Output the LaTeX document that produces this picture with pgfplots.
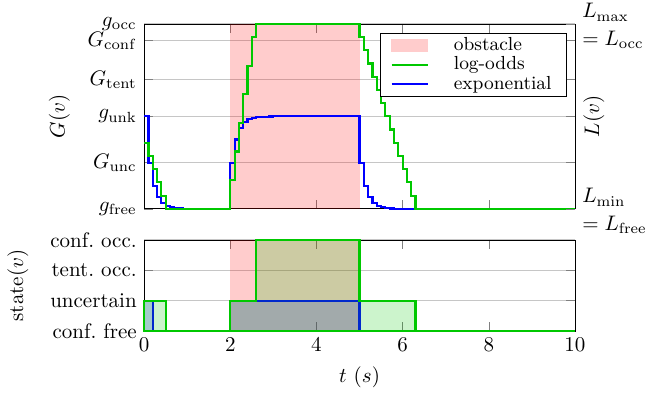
\documentclass[border=0pt]{standalone}
\usepackage{pgfplots}
\pgfplotsset{compat=1.18}
\usetikzlibrary{calc}
\definecolor{myg}{RGB}{0,200,0}
\definecolor{myb}{RGB}{0,0,255}
\begin{document}
\begin{tikzpicture}
\pgfplotsset{
  every axis/.append style={scale only axis, width=205pt, xmin=0, xmax=10, clip=false},
  grid style={gray!45, line width=0.5pt},
}
% ---------- top axis ----------
\begin{axis}[name=top, height=88pt, ymin=0, ymax=1,
  xtick={0,2,...,10}, xticklabels={},
  ytick={0,0.25,0.5,0.70,0.91,1},
  yticklabels={$g_{\mathrm{free}}$,$G_{\mathrm{unc}}$,$g_{\mathrm{unk}}$,$G_{\mathrm{tent}}$,$G_{\mathrm{conf}}$,$g_{\mathrm{occ}}$},
  ymajorgrids,
  ylabel={$G(v)$},
  ylabel style={at={(axis description cs:-0.197,0.5)}, anchor=center},
  legend entries={obstacle,log-odds,exponential},
  legend style={at={(axis description cs:0.981,0.953)}, anchor=north east, font=\small,
    inner xsep=5pt, inner ysep=0pt, row sep=-2.5pt,
    /tikz/every odd column/.append style={column sep=10pt}},
  legend cell align=left,
]
\addplot[draw=none, fill=red, fill opacity=0.2, forget plot] coordinates {(2,1) (5,1)} \closedcycle;
\addplot[myb, line width=1pt, const plot, forget plot] coordinates {
(0,0.5)(0.1,0.25)(0.2,0.125)(0.3,0.0625)(0.4,0.03125)(0.5,0.0156)(0.6,0.0078)(0.7,0.0039)(0.8,0.002)(0.9,0.001)(1.0,0)
(2.0,0.25)(2.1,0.375)(2.2,0.4375)(2.3,0.46875)(2.4,0.484)(2.5,0.492)(2.6,0.496)(2.7,0.498)(2.8,0.499)(2.9,0.4995)(3.0,0.5)
(5.0,0.25)(5.1,0.125)(5.2,0.0625)(5.3,0.03125)(5.4,0.0156)(5.5,0.0078)(5.6,0.0039)(5.7,0.002)(5.8,0.001)(5.9,0)(10,0)};
\addplot[myg, line width=1pt, const plot, forget plot] coordinates {
(0,0.357)(0.1,0.286)(0.2,0.214)(0.3,0.143)(0.4,0.071)(0.5,0)
(2.0,0.155)(2.1,0.31)(2.2,0.465)(2.3,0.62)(2.4,0.775)(2.5,0.93)(2.6,1)
(5.0,0.929)(5.1,0.857)(5.2,0.786)(5.3,0.714)(5.4,0.643)(5.5,0.571)(5.6,0.5)(5.7,0.429)(5.8,0.357)(5.9,0.286)(6.0,0.214)(6.1,0.143)(6.2,0.071)(6.3,0)(10,0)};
\addlegendimage{legend image code/.code={\fill[red!20] (0cm,-0.1cm) rectangle (0.6cm,0.1cm);}}
\addlegendimage{myg, line width=1pt}
\addlegendimage{myb, line width=1pt}
\end{axis}
% ---------- right axis of top plot: first lines ----------
\begin{axis}[height=88pt, ymin=0, ymax=1,
  axis x line=none, axis y line*=right,
  ytick={0,1},
  yticklabels={$L_{\min}$,$L_{\max}$},
  yticklabel style={yshift=5.5pt},
  ylabel={$L(v)$},
  ylabel style={at={(axis description cs:1.044,0.5)}, anchor=center},
]
\addplot[draw=none, forget plot] coordinates {(0,0)};
\end{axis}
% ---------- right axis of top plot: second lines ----------
\begin{axis}[height=88pt, ymin=0, ymax=1,
  axis x line=none, axis y line*=right,
  ytick={0,1}, major tick length=0pt,
  yticklabels={$=L_{\mathrm{free}}$,$=L_{\mathrm{occ}}$},
  yticklabel style={yshift=-7.4pt},
]
\addplot[draw=none, forget plot] coordinates {(0,0)};
\end{axis}
% ---------- bottom axis ----------
\begin{axis}[name=bot, at={($(top.south west)+(0,-14.8pt)$)}, anchor=north west,
  height=43.3pt, ymin=0, ymax=3,
  xtick={0,2,...,10},
  ytick={0,1,2,3},
  yticklabels={conf.\ free,uncertain,tent.\ occ.,conf.\ occ.},
  ymajorgrids,
  xlabel={$t\ (s)$},
  ylabel={state$(v)$},
  ylabel style={at={(axis description cs:-0.293,0.5)}, anchor=center},
]
\addplot[draw=none, fill=red, fill opacity=0.2] coordinates {(2,3) (5,3)} \closedcycle;
\addplot[myb, line width=1pt, fill=myb, fill opacity=0.2, draw opacity=1, const plot] coordinates {
(0,1)(0.2,0)(2.0,1)(5.0,0)(10,0)} \closedcycle;
\addplot[myg, line width=1pt, fill=myg, fill opacity=0.2, draw opacity=1, const plot] coordinates {
(0,1)(0.5,0)(2.0,1)(2.6,3)(5.0,1)(6.3,0)(10,0)} \closedcycle;
\end{axis}
\pgfresetboundingbox
\path[use as bounding box] ($(bot.south west)+(-68.6pt,-32.4pt)$) rectangle ($(top.north east)+(34.3pt,11.4pt)$);
\end{tikzpicture}
\end{document}
